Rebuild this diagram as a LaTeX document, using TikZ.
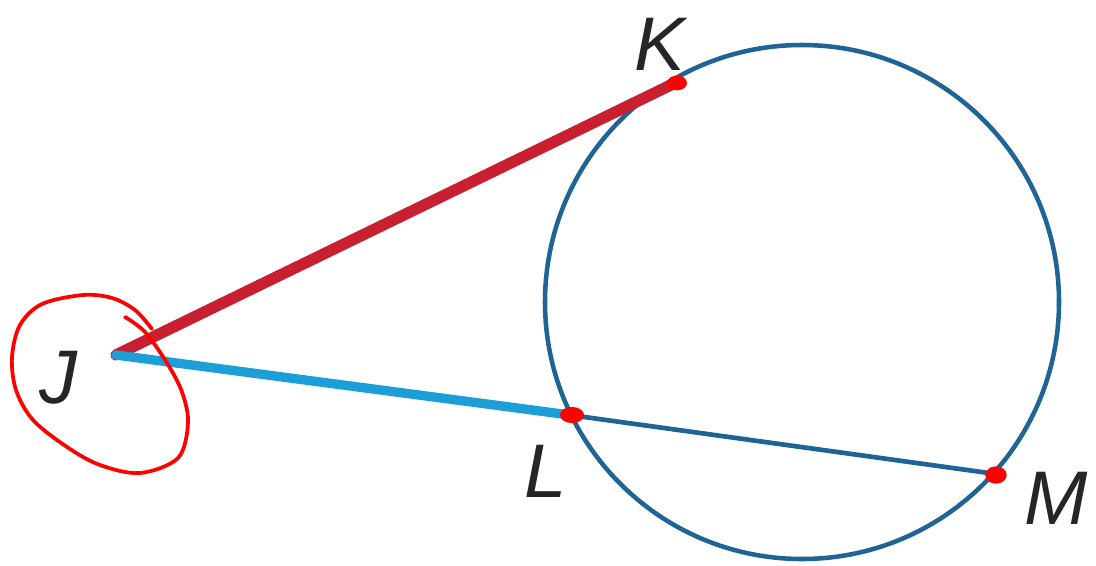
\documentclass[tikz,border=0pt]{standalone}
\usepackage{fontspec}
\setmainfont{Liberation Sans}
\begin{document}
\begin{tikzpicture}[x=0.75pt,y=-0.75pt,
  lbl/.style={font=\fontsize{57}{62}\selectfont\itshape, text=black!85, inner sep=0pt},
  annot/.style={draw=annred, line width=2.8pt, line cap=round, line join=round},
  dotmark/.style={draw=annred, fill=annred, line width=2pt}]
\definecolor{crimson}{RGB}{200,32,48}
\definecolor{lightblue}{RGB}{28,158,215}
\definecolor{darkblue}{RGB}{32,100,150}
\definecolor{annred}{RGB}{255,0,0}
\useasboundingbox (0,0) rectangle (1096,565);
\fill[white] (0,0) rectangle (1096,565);
% points
\coordinate (O) at (802,302);
\coordinate (J) at (116,355);
\coordinate (K) at (675,83);
\coordinate (L) at (570,415);
\coordinate (M) at (996,474);
% circle
\draw[darkblue, line width=3.4pt] (O) circle [radius=257*0.75pt];
% segments
\draw[crimson, line width=8.5pt, line cap=round] (J) -- (K);
\draw[lightblue, line width=7pt, line cap=round] (J) -- (L);
\draw[darkblue, line width=3.5pt] (L) -- (M);
% labels
\node[lbl] (lJ) at (58,378) {J};
\node[lbl] (lK) at (660,44) {K};
\node[lbl] (lL) at (546,471) {L};
\node[lbl, anchor=west] (lM) at (1024,498) {M};
% annotations
\draw[annot] plot[smooth, tension=0.55] coordinates {(125,317) (145,332) (167,363) (182,392) (188,423) (178,458) (140,473) (100,465) (67,447) (33,420) (16,390) (12,357) (20,325) (42,304) (83,295) (112,298) (135,310) (152,329)};
\draw[dotmark] (677,83) ellipse [x radius=6.5pt, y radius=4.5pt];
\draw[dotmark] (572,415) ellipse [x radius=8pt, y radius=5pt];
\draw[dotmark] (996,475) ellipse [x radius=7pt, y radius=5.5pt];
\end{tikzpicture}
\end{document}
